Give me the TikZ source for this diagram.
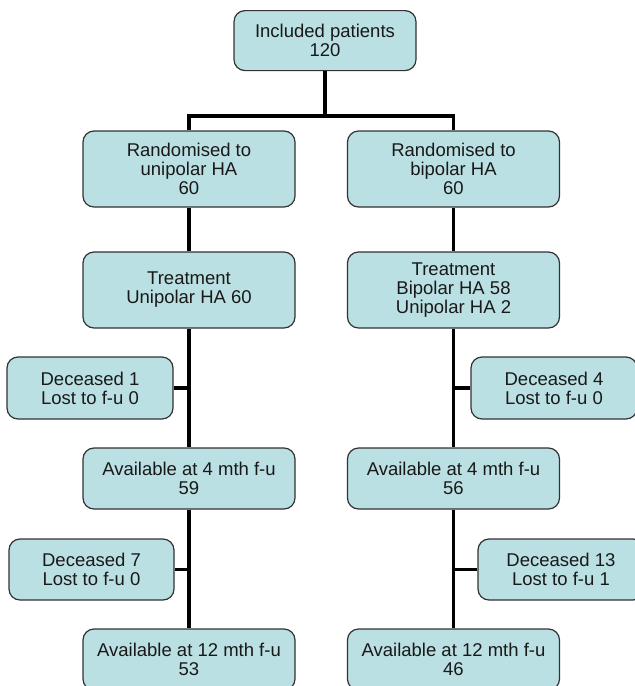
\documentclass[tikz,border=0pt]{standalone}
\usepackage{fontspec}
\setmainfont{Liberation Sans}
\definecolor{boxfill}{RGB}{187,224,227}
\definecolor{boxline}{RGB}{50,50,50}
\definecolor{txt}{RGB}{25,25,25}
\tikzset{
  fbox/.style={draw=boxline, line width=1.2pt, fill=boxfill, rounded corners=11pt,
    minimum width=212pt, minimum height=76pt, inner sep=0pt, align=center,
    text=txt, font=\fontsize{18.5}{19}\selectfont},
  conn/.style={line width=3.6pt, black, line join=miter}
}
\begin{document}
\begin{tikzpicture}[x=1pt,y=-1pt]
\useasboundingbox (0,0) rectangle (635,686);
\node[fbox, minimum width=182pt, minimum height=60pt] (top) at (325,40.6) {Included patients\\120};
\node[fbox] (randL) at (189,169) {Randomised to\\unipolar HA\\60};
\node[fbox] (randR) at (453.5,169) {Randomised to\\bipolar HA\\60};
\node[fbox] (treatL) at (189,290) {Treatment\\Unipolar HA 60};
\node[fbox] (treatR) at (453.5,290) {Treatment\\Bipolar HA 58\\Unipolar HA 2};
\node[fbox, minimum width=166pt, minimum height=62pt] (dec1) at (90,388) {Deceased 1\\Lost to f-u 0};
\node[fbox, minimum width=166pt, minimum height=62pt] (dec4) at (554,388) {Deceased 4\\Lost to f-u 0};
\node[fbox, minimum height=61pt] (av4L) at (189,478.5) {Available at 4 mth f-u\\59};
\node[fbox, minimum height=61pt] (av4R) at (453.5,478.5) {Available at 4 mth f-u\\56};
\node[fbox, minimum width=165pt, minimum height=61pt] (dec7) at (91.5,569.5) {Deceased 7\\Lost to f-u 0};
\node[fbox, minimum width=166pt, minimum height=61pt] (dec13) at (561,569.5) {Deceased 13\\Lost to f-u 1};
\node[fbox, minimum height=61pt] (av12L) at (189,659.5) {Available at 12 mth f-u\\53};
\node[fbox, minimum height=61pt] (av12R) at (453.5,659.5) {Available at 12 mth f-u\\46};
\coordinate (bar) at (0,116);
\begin{scope}[on background layer/.try]
\end{scope}
\draw[conn] (top.south) -- (top.south |- bar);
\draw[conn] (randL.north) -- (randL.north |- bar) -- (randR.north |- bar) -- (randR.north);
\draw[conn] (randL.south) -- (treatL.north);
\draw[conn] (randR.south) -- (treatR.north);
\draw[conn] (treatL.south) -- (av4L.north);
\draw[conn] (treatR.south) -- (av4R.north);
\draw[conn] (dec1.east) -- (dec1.east -| treatL.south);
\draw[conn] (dec4.west) -- (dec4.west -| treatR.south);
\draw[conn] (av4L.south) -- (av12L.north);
\draw[conn] (av4R.south) -- (av12R.north);
\draw[conn] (dec7.east) -- (dec7.east -| av4L.south);
\draw[conn] (dec13.west) -- (dec13.west -| av4R.south);
\end{tikzpicture}
\end{document}
